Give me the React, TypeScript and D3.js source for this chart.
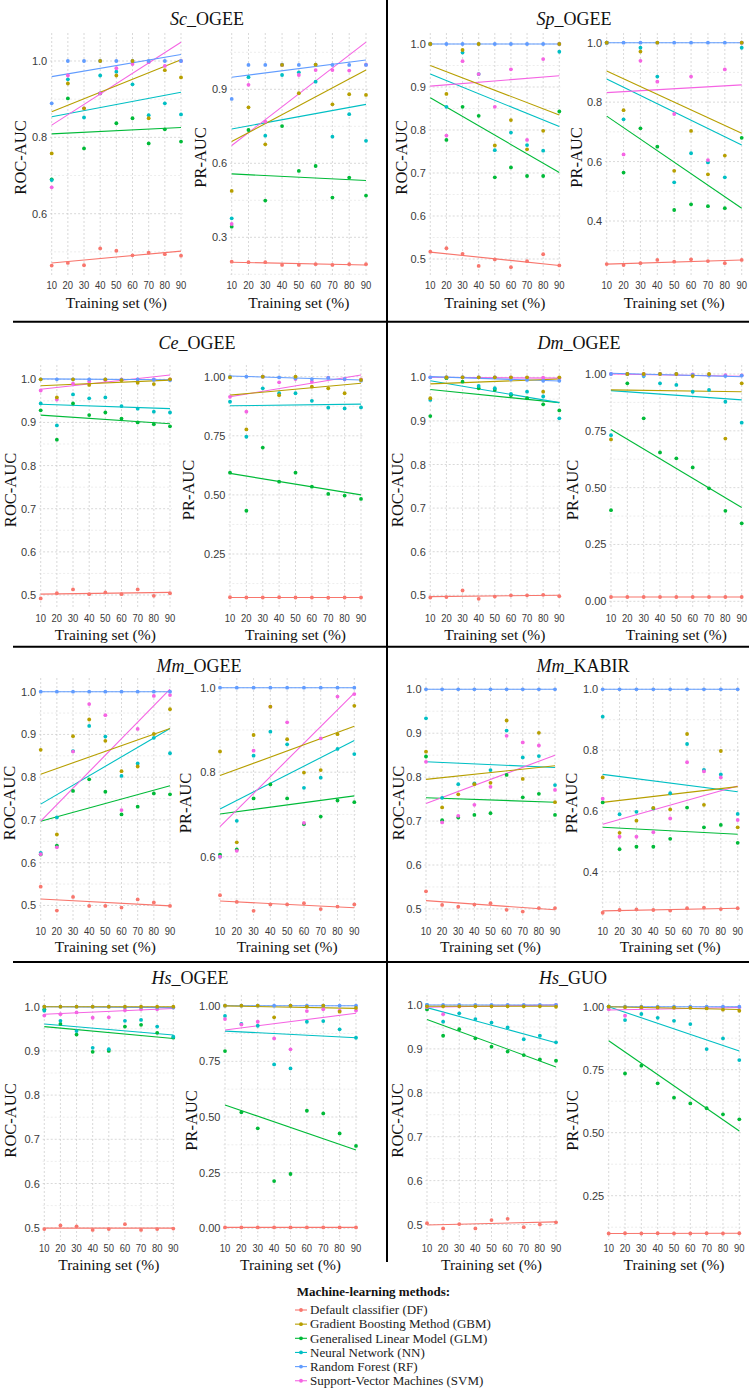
import React from "react";
import * as d3 from "d3";

// ---------------- data ----------------
const METHODS = ["DF", "GBM", "GLM", "NN", "RF", "SVM"];
const METHOD_NAMES = [
  "Default classifier (DF)",
  "Gradient Boosting Method (GBM)",
  "Generalised Linear Model (GLM)",
  "Neural Network (NN)",
  "Random Forest (RF)",
  "Support-Vector Machines (SVM)",
];
const METHOD_COLORS = ["#F8766D", "#B79F00", "#00BA38", "#00BFC4", "#619CFF", "#F564E3"];
const TRAINING_SET = [10, 20, 30, 40, 50, 60, 70, 80, 90];
const X_LABEL = "Training set (%)";
const LEGEND_TITLE = "Machine-learning methods:";

// rows: DF, GBM, GLM, NN, RF, SVM ; fits: value of linear fit at 10 and at 90
const scOgeeRoc = [
  [0.464, 0.471, 0.465, 0.509, 0.503, 0.491, 0.498, 0.494, 0.49],
  [0.758, 0.941, 0.876, 1.0, 0.962, 1.0, 0.85, 0.976, 0.957],
  [0.69, 0.902, 0.771, 0.915, 0.837, 0.85, 0.784, 0.821, 0.789],
  [0.688, 0.952, 0.852, 0.962, 0.972, 0.939, 0.858, 0.889, 0.86],
  [0.889, 1.0, 1.0, 1.0, 1.0, 1.0, 1.0, 1.0, 1.0],
  [0.669, 0.962, 0.876, 0.915, 0.981, 0.992, 0.997, 0.987, 1.0],
];
const scOgeeRocFit = [[0.471, 0.502], [0.867, 1.003], [0.809, 0.826], [0.854, 0.918], [0.959, 1.017], [0.832, 1.049]];

const scOgeePr = [
  [0.201, 0.199, 0.199, 0.188, 0.188, 0.191, 0.188, 0.191, 0.191],
  [0.488, 0.827, 0.677, 0.999, 0.884, 1.0, 0.839, 0.88, 0.877],
  [0.343, 0.735, 0.449, 0.751, 0.569, 0.589, 0.461, 0.542, 0.469],
  [0.377, 0.949, 0.712, 0.958, 0.969, 0.931, 0.708, 0.799, 0.691],
  [0.861, 0.999, 0.999, 1.0, 0.999, 1.0, 0.999, 0.999, 0.999],
  [0.354, 0.918, 0.769, 0.999, 0.958, 0.978, 0.978, 0.976, 1.0],
];
const scOgeePrFit = [[0.199, 0.188], [0.688, 0.978], [0.557, 0.53], [0.739, 0.839], [0.949, 1.019], [0.672, 1.091]];

const spOgeeRoc = [
  [0.517, 0.525, 0.512, 0.484, 0.499, 0.481, 0.495, 0.511, 0.485],
  [1.0, 0.884, 0.986, 1.0, 0.764, 0.823, 0.755, 0.798, 1.0],
  [1.0, 0.777, 0.854, 0.833, 0.69, 0.713, 0.693, 0.693, 0.843],
  [1.0, 0.854, 0.98, 0.93, 0.753, 0.794, 0.765, 0.752, 0.982],
  [1.0, 1.0, 1.0, 1.0, 1.0, 1.0, 1.0, 1.0, 1.0],
  [1.0, 0.787, 0.96, 0.93, 0.854, 0.941, 0.777, 0.965, 1.0],
];
const spOgeeRocFit = [[0.516, 0.485], [0.95, 0.835], [0.875, 0.701], [0.93, 0.808], [1.0, 1.0], [0.902, 0.926]];

const spOgeePr = [
  [0.255, 0.252, 0.258, 0.269, 0.263, 0.271, 0.265, 0.258, 0.269],
  [1.0, 0.773, 0.97, 1.0, 0.569, 0.703, 0.557, 0.62, 1.0],
  [1.0, 0.563, 0.712, 0.65, 0.437, 0.456, 0.45, 0.443, 0.68],
  [1.0, 0.742, 0.983, 0.886, 0.53, 0.628, 0.597, 0.547, 0.983],
  [1.0, 1.0, 1.0, 1.0, 1.0, 1.0, 1.0, 1.0, 1.0],
  [1.0, 0.624, 0.939, 0.869, 0.76, 0.886, 0.605, 0.91, 1.0],
];
const spOgeePrFit = [[0.255, 0.269], [0.905, 0.695], [0.753, 0.443], [0.878, 0.656], [1.0, 1.0], [0.832, 0.858]];

const ceOgeeRoc = [
  [0.492, 0.504, 0.513, 0.502, 0.506, 0.502, 0.513, 0.498, 0.504],
  [1.0, 0.958, 1.0, 0.987, 1.0, 0.998, 0.992, 0.989, 1.0],
  [0.928, 0.86, 0.944, 0.917, 0.923, 0.909, 0.9, 0.896, 0.891],
  [0.944, 0.893, 0.965, 0.956, 0.958, 0.938, 0.932, 0.925, 0.923],
  [1.0, 1.0, 1.0, 1.0, 1.0, 0.999, 1.0, 0.999, 0.998],
  [0.974, 0.953, 0.99, 0.995, 0.998, 1.0, 1.0, 1.0, 1.0],
];
const ceOgeeRocFit = [[0.502, 0.506], [0.985, 0.998], [0.917, 0.897], [0.942, 0.932], [1.001, 0.999], [0.977, 1.01]];

const ceOgeePr = [
  [0.067, 0.066, 0.066, 0.067, 0.066, 0.066, 0.065, 0.066, 0.066],
  [0.997, 0.777, 1.0, 0.922, 1.0, 0.958, 0.951, 0.93, 0.986],
  [0.594, 0.433, 0.7, 0.556, 0.594, 0.535, 0.504, 0.497, 0.483],
  [0.894, 0.746, 0.951, 0.93, 0.93, 0.898, 0.869, 0.866, 0.87],
  [1.0, 1.0, 1.0, 0.997, 0.993, 0.99, 0.995, 0.99, 0.983],
  [0.915, 0.852, 1.0, 0.976, 0.99, 0.979, 0.996, 0.989, 0.989],
];
const ceOgeePrFit = [[0.066, 0.066], [0.922, 0.972], [0.591, 0.5], [0.877, 0.884], [1.003, 0.986], [0.915, 1.007]];

const dmOgeeRoc = [
  [0.495, 0.496, 0.511, 0.492, 0.497, 0.5, 0.5, 0.501, 0.498],
  [0.952, 1.0, 1.0, 1.0, 1.0, 1.0, 1.0, 0.967, 1.0],
  [0.911, 0.998, 0.99, 0.975, 0.971, 0.959, 0.952, 0.938, 0.924],
  [0.948, 1.0, 1.0, 0.98, 0.975, 0.962, 0.967, 0.956, 0.906],
  [1.0, 1.0, 1.0, 1.0, 1.0, 0.995, 0.994, 0.992, 0.992],
  [1.0, 1.0, 1.0, 1.0, 1.0, 1.0, 0.999, 0.999, 0.998],
];
const dmOgeeRocFit = [[0.497, 0.5], [0.985, 0.996], [0.972, 0.942], [0.992, 0.942], [1.0015, 0.9915], [1.0, 0.998]];

const dmOgeePr = [
  [0.019, 0.019, 0.019, 0.019, 0.019, 0.019, 0.019, 0.019, 0.019],
  [0.712, 1.0, 1.0, 1.0, 1.0, 0.991, 1.0, 0.716, 0.959],
  [0.401, 0.959, 0.805, 0.655, 0.629, 0.589, 0.497, 0.398, 0.343],
  [0.731, 1.0, 0.991, 0.959, 0.952, 0.922, 0.93, 0.878, 0.786],
  [1.0, 1.0, 0.993, 1.0, 1.0, 0.996, 0.993, 0.991, 0.993],
  [1.0, 1.0, 1.0, 1.0, 0.999, 0.998, 0.996, 0.995, 0.994],
];
const dmOgeePrFit = [[0.019, 0.019], [0.93, 0.922], [0.756, 0.413], [0.927, 0.886], [1.003, 0.988], [1.0, 0.99]];

const mmOgeeRoc = [
  [0.544, 0.488, 0.52, 0.499, 0.499, 0.495, 0.514, 0.507, 0.499],
  [0.864, 0.666, 0.896, 0.935, 0.885, 0.814, 0.825, 0.901, 0.959],
  [0.619, 0.64, 0.768, 0.795, 0.766, 0.713, 0.731, 0.762, 0.76],
  [0.623, 0.706, 0.861, 0.92, 0.895, 0.803, 0.832, 0.892, 0.856],
  [1.0, 1.0, 1.0, 1.0, 1.0, 1.0, 1.0, 1.0, 1.0],
  [0.62, 0.636, 0.86, 0.971, 0.945, 0.723, 0.913, 0.99, 0.992],
];
const mmOgeeRocFit = [[0.515, 0.499], [0.807, 0.914], [0.697, 0.78], [0.737, 0.914], [1.0, 1.0], [0.697, 1.006]];

const mmOgeePr = [
  [0.509, 0.493, 0.472, 0.487, 0.487, 0.49, 0.476, 0.482, 0.487],
  [0.849, 0.634, 0.888, 0.955, 0.878, 0.799, 0.805, 0.89, 0.957],
  [0.605, 0.617, 0.738, 0.771, 0.738, 0.677, 0.695, 0.733, 0.729],
  [0.6, 0.685, 0.839, 0.896, 0.866, 0.763, 0.787, 0.855, 0.843],
  [1.0, 1.0, 1.0, 1.0, 1.0, 1.0, 1.0, 1.0, 1.0],
  [0.6, 0.614, 0.851, 0.955, 0.918, 0.68, 0.88, 0.979, 0.985],
];
const mmOgeePrFit = [[0.495, 0.479], [0.792, 0.909], [0.701, 0.744], [0.713, 0.875], [1.0, 1.0], [0.671, 0.987]];

const mmKabirRoc = [
  [0.54, 0.509, 0.505, 0.51, 0.513, 0.498, 0.494, 0.502, 0.502],
  [0.858, 0.731, 0.761, 0.784, 0.787, 0.929, 0.796, 0.901, 0.743],
  [0.847, 0.702, 0.708, 0.714, 0.718, 0.805, 0.754, 0.762, 0.714],
  [0.934, 0.753, 0.784, 0.786, 0.816, 0.906, 0.845, 0.848, 0.782],
  [1.0, 1.0, 1.0, 1.0, 1.0, 1.0, 1.0, 1.0, 1.0],
  [0.835, 0.697, 0.712, 0.737, 0.778, 0.894, 0.879, 0.872, 0.771],
];
const mmKabirRocFit = [[0.519, 0.498], [0.795, 0.826], [0.753, 0.743], [0.835, 0.822], [1.0, 1.0], [0.74, 0.85]];

const mmKabirPr = [
  [0.265, 0.274, 0.276, 0.274, 0.272, 0.28, 0.282, 0.277, 0.28],
  [0.71, 0.528, 0.568, 0.61, 0.605, 0.853, 0.62, 0.797, 0.546],
  [0.628, 0.474, 0.482, 0.482, 0.508, 0.611, 0.546, 0.554, 0.495],
  [0.91, 0.589, 0.597, 0.608, 0.658, 0.82, 0.735, 0.72, 0.59],
  [1.0, 1.0, 1.0, 1.0, 1.0, 1.0, 1.0, 1.0, 1.0],
  [0.64, 0.515, 0.515, 0.53, 0.575, 0.76, 0.73, 0.71, 0.57],
];
const mmKabirPrFit = [[0.271, 0.28], [0.628, 0.68], [0.546, 0.523], [0.72, 0.663], [1.0, 1.0], [0.556, 0.682]];

const hsOgeeRoc = [
  [0.497, 0.505, 0.503, 0.495, 0.497, 0.508, 0.495, 0.497, 0.498],
  [1.0, 1.0, 1.0, 1.0, 1.0, 1.0, 1.0, 1.0, 1.0],
  [0.994, 0.961, 0.937, 0.898, 0.9, 0.955, 0.959, 0.941, 0.93],
  [0.991, 0.968, 0.945, 0.907, 0.904, 0.968, 0.97, 0.955, 0.932],
  [1.0, 1.0, 1.0, 1.0, 1.0, 0.999, 0.999, 0.998, 0.998],
  [0.98, 0.983, 0.987, 0.975, 0.976, 0.992, 0.994, 0.994, 0.998],
];
const hsOgeeRocFit = [[0.499, 0.499], [1.0, 1.0], [0.955, 0.928], [0.961, 0.936], [1.0, 0.998], [0.983, 0.996]];

const hsOgeePr = [
  [0.004, 0.004, 0.004, 0.004, 0.004, 0.004, 0.004, 0.004, 0.004],
  [1.0, 1.0, 1.0, 0.948, 1.0, 0.995, 1.0, 0.973, 0.99],
  [0.796, 0.521, 0.449, 0.212, 0.244, 0.528, 0.516, 0.426, 0.37],
  [0.954, 0.918, 0.91, 0.736, 0.718, 0.928, 0.931, 0.894, 0.856],
  [1.0, 1.0, 1.0, 1.0, 1.0, 1.0, 1.0, 1.0, 1.0],
  [0.94, 0.915, 0.928, 0.853, 0.804, 0.976, 0.984, 0.978, 0.978],
];
const hsOgeePrFit = [[0.004, 0.004], [0.999, 0.988], [0.554, 0.352], [0.886, 0.856], [1.0, 1.0], [0.891, 0.966]];

const hsGuoRoc = [
  [0.503, 0.491, 0.501, 0.491, 0.51, 0.513, 0.494, 0.5, 0.505],
  [0.997, 0.997, 0.997, 0.997, 0.997, 0.997, 0.997, 0.997, 0.996],
  [0.99, 0.93, 0.945, 0.924, 0.905, 0.894, 0.886, 0.876, 0.873],
  [1.0, 0.962, 0.981, 0.968, 0.96, 0.949, 0.922, 0.93, 0.915],
  [1.0, 1.0, 1.0, 1.0, 1.0, 1.0, 1.0, 1.0, 1.0],
  [0.995, 0.979, 0.997, 0.998, 0.998, 0.999, 0.999, 0.999, 1.0],
];
const hsGuoRocFit = [[0.499, 0.506], [0.997, 0.997], [0.967, 0.859], [0.994, 0.914], [1.0, 1.0], [0.995, 1.0]];

const hsGuoPr = [
  [0.1, 0.101, 0.1, 0.101, 0.1, 0.1, 0.101, 0.1, 0.101],
  [1.0, 0.998, 0.998, 0.997, 0.996, 0.995, 0.993, 0.988, 0.984],
  [1.0, 0.735, 0.766, 0.696, 0.639, 0.616, 0.597, 0.573, 0.553],
  [1.0, 0.947, 0.971, 0.956, 0.944, 0.931, 0.832, 0.874, 0.788],
  [1.0, 1.0, 1.0, 1.0, 1.0, 1.0, 1.0, 1.0, 1.0],
  [0.99, 0.964, 0.994, 0.995, 0.996, 0.997, 0.997, 0.998, 0.998],
];
const hsGuoPrFit = [[0.1, 0.101], [1.0, 0.989], [0.865, 0.507], [1.0, 0.824], [1.0, 1.0], [0.987, 0.997]];

// tick labels
const TICKS_ROC = [0.5, 0.6, 0.7, 0.8, 0.9, 1.0];
const TICKS_ROC_SC = [0.6, 0.8, 1.0];
const TICKS_PR_SC = [0.3, 0.6, 0.9];
const TICKS_PR_FIFTH = [0.4, 0.6, 0.8, 1.0];
const TICKS_PR_QUARTER = [0, 0.25, 0.5, 0.75, 1.0];
const TICKS_PR_MM = [0.6, 0.8, 1.0];

// ---------------- layout ----------------
const W = 752;
const H = 1390;
const SERIF = "'Liberation Serif', 'Times New Roman', Times, serif";
const SANS = "'Liberation Sans', Arial, Helvetica, sans-serif";
const DRAW_ORDER = [0, 2, 3, 5, 4, 1];

const ROWS = [
  { titleY: 19, top: 33, bottom: 276, xTickY: 285, xTitleY: 303 },
  { titleY: 343, top: 365, bottom: 609, xTickY: 618.3, xTitleY: 635 },
  { titleY: 666, top: 678, bottom: 922, xTickY: 931, xTitleY: 946.7 },
  { titleY: 978, top: 995, bottom: 1240, xTickY: 1248.3, xTitleY: 1265 },
];

const PANELS = [
  {
    species: "Sc", dataset: "_OGEE", titleX: 207, row: 0,
    subplots: [
      { label: "ROC-AUC", values: scOgeeRoc, fits: scOgeeRocFit, ticks: TICKS_ROC_SC, digits: 1, x10: 51.7, x90: 181, cal: [1.0, 61, 0.6, 213.7], yTitleX: 20.7 },
      { label: "PR-AUC", values: scOgeePr, fits: scOgeePrFit, ticks: TICKS_PR_SC, digits: 1, x10: 231.7, x90: 366, cal: [0.9, 89.3, 0.3, 237.3], yTitleX: 200 },
    ],
  },
  {
    species: "Sp", dataset: "_OGEE", titleX: 574, row: 0,
    subplots: [
      { label: "ROC-AUC", values: spOgeeRoc, fits: spOgeeRocFit, ticks: TICKS_ROC, digits: 1, x10: 430.3, x90: 559.3, cal: [1.0, 44, 0.5, 259], yTitleX: 401 },
      { label: "PR-AUC", values: spOgeePr, fits: spOgeePrFit, ticks: TICKS_PR_FIFTH, digits: 1, x10: 606.7, x90: 741.7, cal: [1.0, 42.7, 0.4, 221], yTitleX: 576 },
    ],
  },
  {
    species: "Ce", dataset: "_OGEE", titleX: 197, row: 1,
    subplots: [
      { label: "ROC-AUC", values: ceOgeeRoc, fits: ceOgeeRocFit, ticks: TICKS_ROC, digits: 1, x10: 40.7, x90: 170, cal: [1.0, 379.3, 0.5, 595], yTitleX: 10 },
      { label: "PR-AUC", values: ceOgeePr, fits: ceOgeePrFit, ticks: TICKS_PR_QUARTER, digits: 2, x10: 230, x90: 361, cal: [1.0, 376.7, 0.25, 554], yTitleX: 188 },
    ],
  },
  {
    species: "Dm", dataset: "_OGEE", titleX: 579, row: 1,
    subplots: [
      { label: "ROC-AUC", values: dmOgeeRoc, fits: dmOgeeRocFit, ticks: TICKS_ROC, digits: 1, x10: 430.3, x90: 559.3, cal: [1.0, 377.3, 0.6, 551.7], yTitleX: 397.7 },
      { label: "PR-AUC", values: dmOgeePr, fits: dmOgeePrFit, ticks: TICKS_PR_QUARTER, digits: 2, x10: 611, x90: 741.7, cal: [1.0, 374, 0, 601.3], yTitleX: 572.7 },
    ],
  },
  {
    species: "Mm", dataset: "_OGEE", titleX: 199, row: 2,
    subplots: [
      { label: "ROC-AUC", values: mmOgeeRoc, fits: mmOgeeRocFit, ticks: TICKS_ROC, digits: 1, x10: 40.7, x90: 170, cal: [1.0, 691.7, 0.6, 862.7], yTitleX: 9 },
      { label: "PR-AUC", values: mmOgeePr, fits: mmOgeePrFit, ticks: TICKS_PR_MM, digits: 1, x10: 220, x90: 354.3, cal: [1.0, 687.7, 0.6, 856.7], yTitleX: 185 },
    ],
  },
  {
    species: "Mm", dataset: "_KABIR", titleX: 583, row: 2,
    subplots: [
      { label: "ROC-AUC", values: mmKabirRoc, fits: mmKabirRocFit, ticks: TICKS_ROC, digits: 1, x10: 426, x90: 555, cal: [1.0, 689.3, 0.6, 865], yTitleX: 398.7 },
      { label: "PR-AUC", values: mmKabirPr, fits: mmKabirPrFit, ticks: TICKS_PR_FIFTH, digits: 1, x10: 602.7, x90: 737.7, cal: [1.0, 689.3, 0.4, 871.7], yTitleX: 571 },
    ],
  },
  {
    species: "Hs", dataset: "_OGEE", titleX: 190, row: 3,
    subplots: [
      { label: "ROC-AUC", values: hsOgeeRoc, fits: hsOgeeRocFit, ticks: TICKS_ROC, digits: 1, x10: 44.3, x90: 173.3, cal: [1.0, 1006.7, 0.7, 1139.3], yTitleX: 10 },
      { label: "PR-AUC", values: hsOgeePr, fits: hsOgeePrFit, ticks: TICKS_PR_QUARTER, digits: 2, x10: 225, x90: 356, cal: [1.0, 1005.7, 0, 1228.3], yTitleX: 191.7 },
    ],
  },
  {
    species: "Hs", dataset: "_GUO", titleX: 573, row: 3,
    subplots: [
      { label: "ROC-AUC", values: hsGuoRoc, fits: hsGuoRocFit, ticks: TICKS_ROC, digits: 1, x10: 427, x90: 556, cal: [1.0, 1005, 0.7, 1136.7], yTitleX: 397.7 },
      { label: "PR-AUC", values: hsGuoPr, fits: hsGuoPrFit, ticks: TICKS_PR_QUARTER, digits: 2, x10: 608.7, x90: 739.3, cal: [1.0, 1006.7, 0.5, 1132.7], yTitleX: 572.7 },
    ],
  },
];

const H_SEPARATORS = [321.7, 646.7, 962];
const V_SEPARATOR = { x: 387, y1: 0, y2: 1262 };

function Subplot({ sp, row, id }: any) {
  const x = d3.scaleLinear().domain([10, 90]).range([sp.x10, sp.x90]);
  const y = d3.scaleLinear().domain([sp.cal[0], sp.cal[2]]).range([sp.cal[1], sp.cal[3]]);
  const top = row.top;
  const bottom = row.bottom;
  const left = x(9);
  const right = x(91);
  const inside = (v: number) => {
    const p = y(v);
    return p >= top - 0.5 && p <= bottom + 0.5;
  };
  const ticks: number[] = sp.ticks;
  const step = ticks[1] - ticks[0];
  const minors: number[] = [];
  for (let i = -1; i < ticks.length; i++) minors.push(ticks[0] + (i + 0.5) * step);
  const majors = ticks.filter(inside);
  const fmt = d3.format(`.${sp.digits}f`);
  const line = d3
    .line<[number, number]>()
    .x((d) => x(d[0]))
    .y((d) => y(d[1]));
  const midY = (top + bottom) / 2 + 3;

  return (
    <g key={id}>
      {/* grid */}
      {minors.filter(inside).map((v, i) => (
        <line key={"mn" + i} x1={left} x2={right} y1={y(v)} y2={y(v)} stroke="#e0e0e0" strokeWidth={0.6} strokeDasharray="2,2" />
      ))}
      {majors.map((v, i) => (
        <line key={"mj" + i} x1={left} x2={right} y1={y(v)} y2={y(v)} stroke="#c9c9c9" strokeWidth={0.7} strokeDasharray="2,2" />
      ))}
      {TRAINING_SET.map((t, i) => (
        <line key={"vx" + i} x1={x(t)} x2={x(t)} y1={top} y2={bottom} stroke="#c9c9c9" strokeWidth={0.7} strokeDasharray="2,2" />
      ))}
      {/* fitted lines */}
      {DRAW_ORDER.map((m) => (
        <path
          key={"l" + m}
          d={line([
            [TRAINING_SET[0], sp.fits[m][0]],
            [TRAINING_SET[TRAINING_SET.length - 1], sp.fits[m][1]],
          ]) as string}
          stroke={METHOD_COLORS[m]}
          strokeWidth={1.1}
          fill="none"
        />
      ))}
      {/* points */}
      {DRAW_ORDER.map((m) =>
        sp.values[m].map((v: number, i: number) => (
          <circle key={"p" + m + "_" + i} cx={x(TRAINING_SET[i])} cy={y(v)} r={1.9} fill={METHOD_COLORS[m]} />
        ))
      )}
      {/* y tick labels */}
      {majors.map((v, i) => (
        <text key={"yt" + i} x={sp.x10 - 4.5} y={y(v) + 4} textAnchor="end" fontFamily={SANS} fontSize={11} fill="#3a3a3a">
          {fmt(v)}
        </text>
      ))}
      {/* x tick labels */}
      {TRAINING_SET.map((t, i) => (
        <text
          key={"xt" + i}
          transform={`translate(${x(t)},${row.xTickY + 4}) scale(0.86,1)`}
          textAnchor="middle"
          fontFamily={SANS}
          fontSize={11}
          fill="#3a3a3a"
        >
          {t}
        </text>
      ))}
      {/* axis titles */}
      <text x={(sp.x10 + sp.x90) / 2} y={row.xTitleY + 5} textAnchor="middle" fontFamily={SERIF} fontSize={15.5} fill="#111">
        {X_LABEL}
      </text>
      <text transform={`translate(${sp.yTitleX},${midY}) rotate(-90)`} y={5.5} textAnchor="middle" fontFamily={SERIF} fontSize={16.5} fill="#111">
        {sp.label}
      </text>
    </g>
  );
}

export default function App() {
  const legendX = 295;
  const legendTitleY = 1291.7;
  const legendY0 = 1310;
  const legendStep = 14.15;
  return (
    <svg width={W} height={H} style={{ position: "absolute", left: 0, top: 0, background: "#fff" }}>
      <rect x={0} y={0} width={W} height={H} fill="#fff" />
      {PANELS.map((p, pi) => {
        const row = ROWS[p.row];
        return (
          <g key={"panel" + pi}>
            <text x={p.titleX} y={row.titleY + 6} textAnchor="middle" fontFamily={SERIF} fontSize={18} fill="#111">
              <tspan fontStyle="italic">{p.species}</tspan>
              <tspan>{p.dataset}</tspan>
            </text>
            {p.subplots.map((sp, si) => (
              <Subplot key={"sp" + pi + "_" + si} sp={sp} row={row} id={"sp" + pi + "_" + si} />
            ))}
          </g>
        );
      })}
      {H_SEPARATORS.map((yy, i) => (
        <line key={"hs" + i} x1={13} x2={749} y1={yy} y2={yy} stroke="#000" strokeWidth={2} />
      ))}
      <line x1={V_SEPARATOR.x} x2={V_SEPARATOR.x} y1={V_SEPARATOR.y1} y2={V_SEPARATOR.y2} stroke="#000" strokeWidth={2} />
      {/* legend */}
      <text x={legendX + 1.7} y={legendTitleY + 4.5} fontFamily={SERIF} fontSize={13} fontWeight="bold" fill="#111">
        {LEGEND_TITLE}
      </text>
      {METHODS.map((m, i) => {
        const yy = legendY0 + i * legendStep;
        return (
          <g key={"lg" + m}>
            <line x1={legendX} x2={legendX + 12} y1={yy} y2={yy} stroke={METHOD_COLORS[i]} strokeWidth={1.1} />
            <circle cx={legendX + 6} cy={yy} r={1.9} fill={METHOD_COLORS[i]} />
            <text x={legendX + 15} y={yy + 4.3} fontFamily={SERIF} fontSize={13} fill="#222">
              {METHOD_NAMES[i]}
            </text>
          </g>
        );
      })}
    </svg>
  );
}
